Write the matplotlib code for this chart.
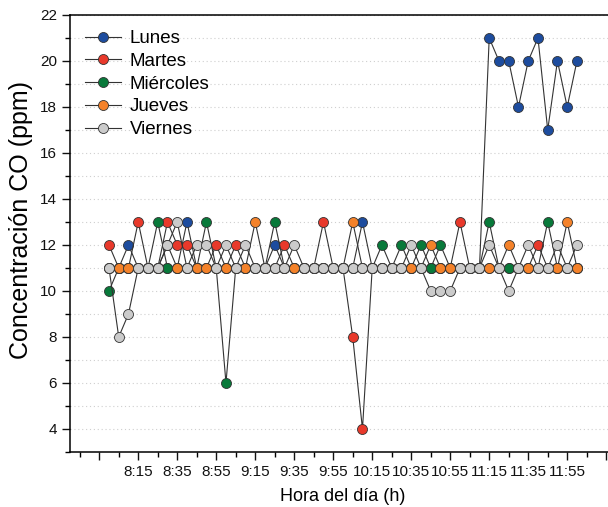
# Concentracion de CO por hora del dia, lunes a viernes
import matplotlib
matplotlib.use('Agg')
import matplotlib.pyplot as plt
from matplotlib.ticker import MultipleLocator, FixedLocator

plt.rcParams['font.family'] = ['Liberation Sans', 'DejaVu Sans']

# horas de medicion (cada 5 min)
horas = ['8:00', '8:05', '8:10', '8:15', '8:20', '8:25', '8:30', '8:35', '8:40', '8:45',
         '8:50', '8:55', '9:00', '9:05', '9:10', '9:15', '9:20', '9:25', '9:30', '9:35',
         '9:40', '9:45', '9:50', '9:55', '10:00', '10:05', '10:10', '10:15', '10:20', '10:25',
         '10:30', '10:35', '10:40', '10:45', '10:50', '10:55', '11:00', '11:05', '11:10', '11:15',
         '11:20', '11:25', '11:30', '11:35', '11:40', '11:45', '11:50', '11:55', '12:00']

lunes = [11, 11, 12, 11, 11, 11, 11, 11, 13, 11,
         11, 11, 11, 11, 11, 11, 11, 12, 11, 11,
         11, 11, 11, 11, 11, 11, 13, 11, 11, 11,
         11, 11, 11, 11, 11, 11, 11, 11, 11, 21,
         20, 20, 18, 20, 21, 17, 20, 18, 20]
martes = [12, 11, 11, 13, 11, 11, 13, 12, 12, 11,
          11, 12, 11, 12, 11, 11, 11, 11, 12, 11,
          11, 11, 13, 11, 11, 8, 4, 11, 11, 11,
          11, 11, 11, 11, 11, 11, 13, 11, 11, 11,
          11, 11, 11, 11, 12, 11, 11, 11, 11]
miercoles = [10, 11, 11, 11, 11, 13, 11, 11, 11, 11,
             13, 11, 6, 11, 11, 11, 11, 13, 11, 11,
             11, 11, 11, 11, 11, 11, 11, 11, 12, 11,
             12, 11, 12, 11, 12, 11, 11, 11, 11, 13,
             11, 11, 11, 11, 11, 13, 11, 11, 11]
jueves = [11, 11, 11, 11, 11, 11, 12, 11, 11, 11,
          11, 11, 11, 11, 11, 13, 11, 11, 11, 11,
          11, 11, 11, 11, 11, 13, 11, 11, 11, 11,
          11, 11, 11, 12, 11, 11, 11, 11, 11, 11,
          11, 12, 11, 11, 11, 11, 11, 13, 11]
viernes = [11, 8, 9, 11, 11, 11, 12, 13, 11, 12,
           12, 11, 12, 11, 12, 11, 11, 11, 11, 12,
           11, 11, 11, 11, 11, 11, 11, 11, 11, 11,
           11, 12, 11, 10, 10, 10, 11, 11, 11, 12,
           11, 10, 11, 12, 11, 11, 12, 11, 12]

etiquetas = ['8:15', '8:35', '8:55', '9:15', '9:35', '9:55',
             '10:15', '10:35', '10:55', '11:15', '11:35', '11:55']


def a_min(h):
    hh, mm = h.split(':')
    return int(hh) * 60 + int(mm)


x = [a_min(h) for h in horas]

series = [('Lunes', lunes, '#1d4c9e'),
          ('Martes', martes, '#e8392b'),
          ('Miércoles', miercoles, '#08793a'),
          ('Jueves', jueves, '#f4822a'),
          ('Viernes', viernes, '#cbcbcb')]

fig = plt.figure(figsize=(6.08, 5.07), dpi=100)
ax = fig.add_axes([0.1151, 0.1085, 0.898, 0.862])

for nombre, vals, col in series:
    ax.plot(x, vals, '-o', color='#333333', lw=0.8, mfc=col, mec='#333333',
            mew=0.6, ms=7.2, label=nombre)

ax.set_xlim(460, 740)
ax.set_ylim(3, 22)

# ticks eje x
mayores = list(range(475, 740, 20))
ax.xaxis.set_major_locator(FixedLocator(mayores))
ax.xaxis.set_minor_locator(FixedLocator(list(range(465, 740, 20))))
ax.set_xticklabels([''] + etiquetas + [''])

ax.yaxis.set_major_locator(MultipleLocator(2))
ax.yaxis.set_minor_locator(MultipleLocator(1))
ax.set_yticks(range(4, 23, 2))

ax.tick_params(which='major', direction='out', length=6, width=1, labelsize=11, colors='#111111')
ax.tick_params(which='minor', direction='out', length=3.5, width=1)
ax.grid(axis='y', which='both', color='#cfcfcf', ls=(0, (1, 2.5)), lw=0.8)
ax.set_axisbelow(True)
for s in ax.spines.values():
    s.set_linewidth(1.1)

ax.set_xlabel('Hora del día (h)', fontsize=13, labelpad=6)
ax.set_ylabel('Concentración CO (ppm)', fontsize=18)
ax.yaxis.set_label_coords(-0.068, 0.53)

ax.legend(loc='upper left', frameon=False, fontsize=13.5, handlelength=1.9,
          handletextpad=0.5, labelspacing=0.3, borderaxespad=0.4,
          bbox_to_anchor=(0.0, 1.0))

fig.savefig('out.png', dpi=100)
